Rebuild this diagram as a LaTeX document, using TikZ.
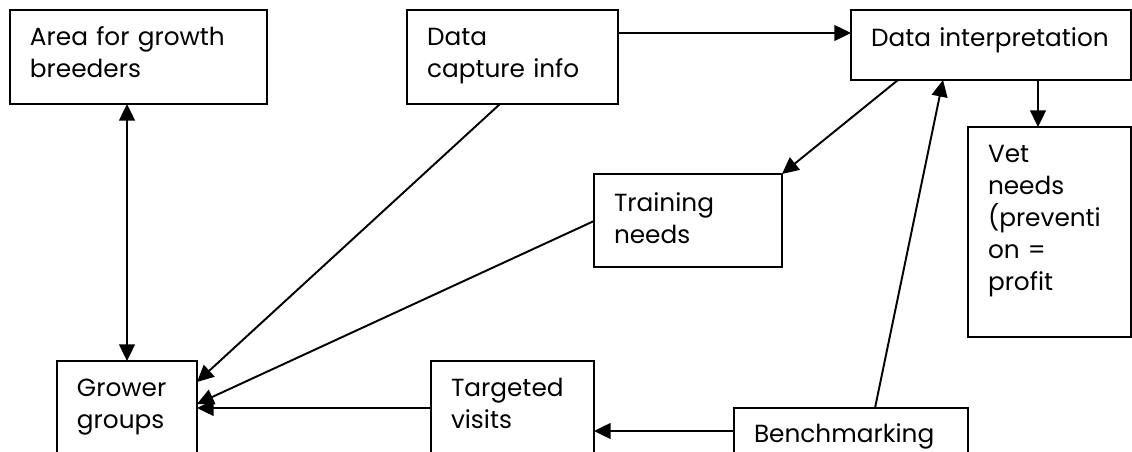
\documentclass[tikz,border=0pt]{standalone}
\usepackage{fontspec}
\setmainfont{Poppins}
\usetikzlibrary{arrows.meta,calc}

\begin{document}
\begin{tikzpicture}[x=0.02cm,y=-0.02cm,>={Triangle[length=9.5pt,width=9pt]},line width=1.1pt,
    blk/.style={draw,anchor=north west,align=left,inner xsep=0.4cm,inner ysep=0pt,outer sep=0pt,
      font=\fontsize{14.1}{18.2}\selectfont}]
  \path[use as bounding box,clip] (0,0) rectangle (1132,452);
  % top row
  \node[blk,text width=4.34cm,text height=0.72cm,text depth=1.16cm] (area) at (10,10) {Area for growth\\breeders};
  \node[blk,text width=3.42cm,text height=0.72cm,text depth=1.16cm] (capture) at (407,10) {Data\\capture info};
  \node[blk,text width=4.80cm,text height=0.74cm,text depth=0.66cm] (interp) at (851,10) {Data~interpretation};
  % middle
  \node[blk,text width=2.46cm,text height=0.72cm,text depth=3.48cm] (vet) at (968,127) {Vet\\needs\\(preventi\\on =\\profit};
  \node[blk,text width=2.96cm,text height=0.76cm,text depth=1.10cm] (training) at (594,174) {Training\\needs};
  % bottom row
  \node[blk,text width=2.00cm,text height=0.72cm,text depth=1.88cm] (grower) at (57,361) {Grower\\groups};
  \node[blk,text width=2.46cm,text height=0.72cm,text depth=1.88cm] (visits) at (431,361) {Targeted\\visits};
  \node[blk,text width=3.88cm,text height=0.70cm,text depth=1.60cm] (bench) at (734,408) {Benchmarking};
  % connectors
  \draw[<->] ($(area.south west)+(117,0)$) coordinate (a) -- (a |- grower.north);
  \draw[->] ($(capture.south west)+(93,0)$) -- ($(grower.north east)+(0,21)$);
  \draw[->] ($(training.north west)+(0,47)$) -- ($(grower.north east)+(0,43)$);
  \draw[->] ($(visits.north west)+(0,47)$) coordinate (v) -- (v -| grower.east);
  \draw[->] ($(bench.north west)+(0,23)$) coordinate (b) -- (b -| visits.east);
  \draw[->] ($(bench.north west)+(141,0)$) -- ($(interp.south west)+(92,0)$);
  \draw[->] ($(capture.north east)+(0,23)$) coordinate (c) -- (c -| interp.west);
  \draw[->] ($(interp.south west)+(47,0)$) -- (training.north east);
  \draw[->] ($(interp.south west)+(187,0)$) coordinate (d) -- (d |- vet.north);
\end{tikzpicture}
\end{document}
